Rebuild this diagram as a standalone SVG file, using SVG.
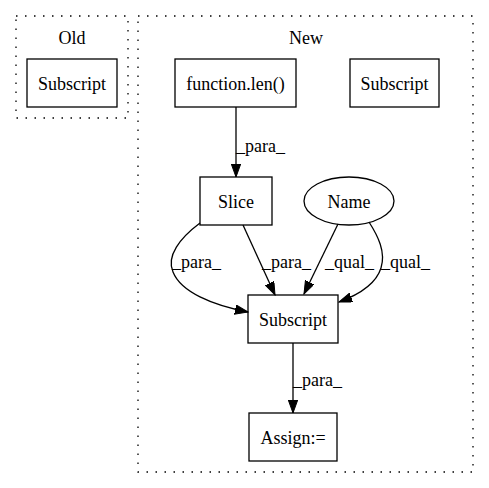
<svg xmlns="http://www.w3.org/2000/svg" width="489" height="488" viewBox="0 0 489 488">
<style>
text{font-family:'Liberation Serif','Times New Roman',serif;font-size:18px;fill:#000}
.c{text-anchor:middle}
.cl{fill:none;stroke:#000;stroke-width:1.3;stroke-dasharray:1.5,7.5}
.n{fill:none;stroke:#000;stroke-width:1.3}
.e{fill:none;stroke:#000;stroke-width:1.3;marker-end:url(#a)}
</style>
<defs>
<marker id="a" markerUnits="userSpaceOnUse" markerWidth="14" markerHeight="10" refX="13" refY="4.7" orient="auto">
<path d="M0,0 L13,4.7 L0,9.4 z" fill="#000" stroke="#000" stroke-width="1"/>
</marker>
</defs>
<rect width="489" height="488" fill="#fff"/>
<g id="cluster_old">
<rect class="cl" x="16" y="16" width="112" height="102"/>
<text class="c" x="72" y="44">Old</text>
</g>
<g id="cluster_new">
<rect class="cl" x="138" y="16" width="335" height="456"/>
<text class="c" x="306" y="44">New</text>
</g>
<g id="old_subscript">
<rect class="n" x="27" y="59" width="90" height="48"/>
<text class="c" x="72" y="90">Subscript</text>
</g>
<g id="function_len">
<rect class="n" x="175" y="59" width="121" height="48"/>
<text class="c" x="235.5" y="90">function.len()</text>
</g>
<g id="new_subscript_iso">
<rect class="n" x="350" y="59" width="89" height="48"/>
<text class="c" x="394.5" y="90">Subscript</text>
</g>
<g id="slice">
<rect class="n" x="200" y="177" width="72" height="48"/>
<text class="c" x="236" y="208">Slice</text>
</g>
<g id="name">
<ellipse class="n" cx="349" cy="201" rx="45" ry="24"/>
<text class="c" x="349" y="208">Name</text>
</g>
<g id="subscript">
<rect class="n" x="248" y="295" width="90" height="48"/>
<text class="c" x="293" y="326">Subscript</text>
</g>
<g id="assign">
<rect class="n" x="249" y="413" width="88" height="48"/>
<text class="c" x="293" y="444">Assign:=</text>
</g>
<g id="edges">
<path class="e" d="M236,107 L236,177"/>
<text x="236" y="152">_para_</text>
<path class="e" d="M200,223 C180,238 166,256 173,272 C181,292 212,305 248,312"/>
<text x="172" y="268">_para_</text>
<path class="e" d="M243,225 L275,295"/>
<text x="262" y="268">_para_</text>
<path class="e" d="M338,224 L304,294"/>
<text x="325" y="268">_qual_</text>
<path class="e" d="M369,222 C378,236 386,252 381,268 C376,284 358,295 339,302"/>
<text x="381" y="268">_qual_</text>
<path class="e" d="M293,343 L293,413"/>
<text x="293" y="386">_para_</text>
</g>
</svg>
